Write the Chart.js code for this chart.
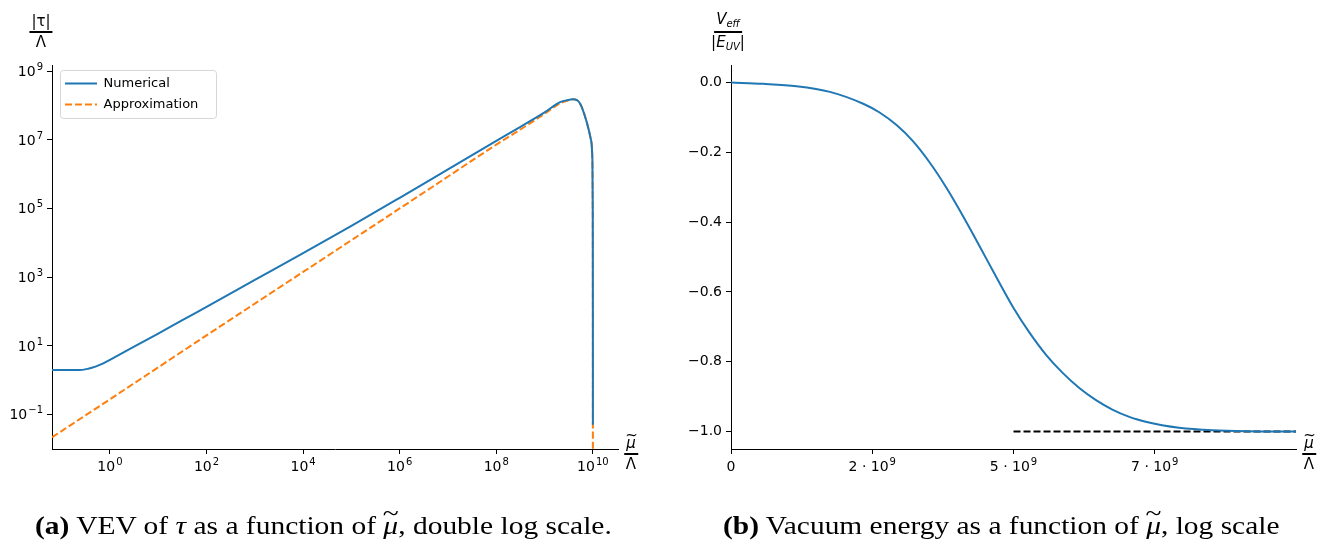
<!DOCTYPE html>
<html>
<head>
<meta charset="utf-8">
<script src="https://cdn.jsdelivr.net/npm/chart.js@4.4.1/dist/chart.umd.min.js"></script>
<style>
body { margin: 0; background: #fff; width: 1338px; height: 546px; position: relative; overflow: hidden; font-family: "DejaVu Sans"; }
.box { position: absolute; top: 0; height: 546px; }
.frac { position: absolute; display: flex; flex-direction: column; align-items: center; font-size: 15px; line-height: 1; color: #000; transform: translateX(-50%); }
.frac .num { padding: 0 2px 2px; border-bottom: 2px solid #000; white-space: nowrap; }
.frac .den { padding-top: 2px; white-space: nowrap; }
.frac i { font-style: oblique; }
.frac sub { font-size: 10px; font-style: oblique; vertical-align: -3px; }
.tl { position: relative; display: inline-block; }
.tl > span { position: absolute; left: -1px; right: -1px; text-align: center; font-style: normal; }
.frac .tl > span { top: -0.55em; font-size: 15px; }
.cap .tl > span { top: -0.5em; }
.cap { position: absolute; top: 511px; font-family: "Liberation Serif"; font-size: 26px; white-space: nowrap; color: #000; transform-origin: 0 50%; }
</style>
</head>
<body>
<div class="box" style="left:0;width:669px"><canvas id="chartA"></canvas></div>
<div class="box" style="left:669px;width:669px"><canvas id="chartB"></canvas></div>

<div class="frac" style="left:41px;top:14px"><div class="num">|τ|</div><div class="den">Λ</div></div>
<div class="frac" style="left:728px;top:12px"><div class="num"><i>V</i><sub>eff</sub></div><div class="den">|<i>E</i><sub>UV</sub>|</div></div>
<div class="frac" style="left:631px;top:436px"><div class="num"><i class="tl">μ<span>~</span></i></div><div class="den">Λ</div></div>
<div class="frac" style="left:1309px;top:436px"><div class="num"><i class="tl">μ<span>~</span></i></div><div class="den">Λ</div></div>

<div class="cap" id="capA" style="left:35px"><b>(a)</b> VEV of <i>τ</i> as a function of <i class="tl">μ<span>~</span></i>, double log scale.</div>
<div class="cap" id="capB" style="left:723px"><b>(b)</b> Vacuum energy as a function of <i class="tl">μ<span>~</span></i>, log scale</div>

<script>
// panel (a): |tau|/Lambda vs mu/Lambda, log-log
const numX = [0.0631, 0.229, 0.355, 0.501, 0.708, 1, 3.16, 10, 31.6, 100, 1e3, 1e4, 1e5, 1e6, 1e7, 1e8, 3.16e8, 1e9, 2.09e9, 2.82e9, 3.89e9, 5.37e9, 7.41e9, 9.12e9, 9.77e9, 9.93e9, 9.99e9, 1e10];
const numY = [1.95, 1.95, 2.14, 2.45, 2.99, 3.89, 9.33, 22.6, 55.6, 136, 822, 4955, 30900, 204000, 1.38e6, 9.33e6, 2.40e7, 6.31e7, 1.26e8, 1.41e8, 1.51e8, 1.17e8, 3.39e7, 1.0e7, 2.57e6, 1e5, 1e2, 0.05];
const apxX = [0.0631, 1, 100, 1e4, 1e6, 1e7, 1e8, 3.16e8, 1e9, 2.09e9, 2.82e9, 3.89e9, 5.37e9, 7.41e9, 9.12e9, 9.77e9, 9.93e9, 9.99e9, 1e10];
const apxY = [0.0214, 0.275, 20.0, 1413, 100000, 851000, 7.24e6, 2.0e7, 5.75e7, 1.15e8, 1.35e8, 1.51e8, 1.17e8, 3.39e7, 1.0e7, 2.57e6, 1e5, 1e2, 0.008];
const logXTicks = [1, 1e2, 1e4, 1e6, 1e8, 1e10];
const logYTicks = [1e-1, 1e1, 1e3, 1e5, 1e7, 1e9];

// panel (b): V_eff/|E_UV| vs mu/Lambda
const vacX = [0, 0.57e9, 1.16e9, 1.75e9, 2.34e9, 2.63e9, 2.93e9, 3.22e9, 3.52e9, 3.81e9, 4.10e9, 4.40e9, 4.69e9, 4.99e9, 5.28e9, 5.58e9, 5.87e9, 6.17e9, 6.46e9, 6.75e9, 7.05e9, 7.34e9, 7.63e9, 7.93e9, 8.52e9, 9.11e9, 1.0e10];
const vacY = [0, -0.004, -0.011, -0.027, -0.061, -0.086, -0.122, -0.168, -0.230, -0.301, -0.381, -0.469, -0.556, -0.643, -0.716, -0.781, -0.832, -0.876, -0.910, -0.937, -0.958, -0.972, -0.982, -0.989, -0.996, -0.999, -1.0];
const limX = [5e9, 1e10];
const limY = [-1, -1];
const linXTicks = [0, 2.5e9, 5e9, 7.5e9];
const linXLabels = ['0', '2 · 10', '5 · 10', '7 · 10'];
const linXExps = ['', '9', '9', '9'];
const linYTicks = [-1.0, -0.8, -0.6, -0.4, -0.2, 0.0];

const expOf = v => Math.round(Math.log10(v));
const pts = (xs, ys) => xs.map((x, i) => ({ x: x, y: ys[i] }));

const BLUE = '#1f77b4', ORANGE = '#ff7f0e';
const tickFont = { family: 'DejaVu Sans', size: 14 };
const HIDDEN = 'rgba(0,0,0,0)';

function axis(extra) {
    return Object.assign({
        grid: { display: true, drawOnChartArea: false, drawTicks: true, tickLength: 5, color: '#000', tickWidth: 1 },
        border: { display: true, color: '#000', width: 1 }
    }, extra);
}

// base + raised exponent, like matplotlib mathtext
function drawPower(ctx, base, ex, x, yb, anchor) {
    ctx.font = '14px "DejaVu Sans"';
    const wb = ctx.measureText(base).width;
    ctx.font = '10px "DejaVu Sans"';
    const we = ex ? ctx.measureText(ex).width + 1 : 0;
    const w = wb + we;
    const x0 = anchor === 'center' ? x - w / 2 : x - w;
    ctx.font = '14px "DejaVu Sans"';
    ctx.fillText(base, x0, yb);
    if (ex) {
        ctx.font = '10px "DejaVu Sans"';
        ctx.fillText(ex, x0 + wb + 1, yb - 6);
    }
}

const powerTicks = {
    id: 'powerTicks',
    afterDraw(chart, args, opts) {
        const ctx = chart.ctx;
        ctx.save();
        ctx.fillStyle = '#000';
        ctx.textBaseline = 'alphabetic';
        ['x', 'y'].forEach(id => {
            const s = chart.scales[id];
            if (!s || !opts[id]) return;
            s.ticks.forEach((t, i) => {
                const [base, ex] = opts[id](t.value, i);
                if (id === 'x') drawPower(ctx, base, ex, s.getPixelForValue(t.value), s.top + 5 + 3 + 14, 'center');
                else drawPower(ctx, base, ex, s.right - 5 - 4, s.getPixelForValue(t.value) + 5, 'right');
            });
        });
        ctx.restore();
    }
};

// legend sits in the upper left of the plot, inside a light frame
const legendFrame = {
    id: 'legendFrame',
    afterLayout(chart) {
        const lg = chart.legend;
        if (!lg || !chart.options.plugins.legend.display) return;
        const ca = chart.chartArea;
        const w = lg.width, h = lg.height;
        lg.left = ca.left + 5; lg.top = ca.top + 4;
        lg.right = lg.left + w; lg.bottom = lg.top + h;
    },
    beforeDraw(chart) {
        if (!chart.options.plugins.legend.display) return;
        const ca = chart.chartArea, ctx = chart.ctx;
        ctx.save();
        ctx.beginPath();
        ctx.roundRect(ca.left + 8.5, ca.top + 5.5, 156, 48, 3);
        ctx.fillStyle = 'rgba(255,255,255,0.8)';
        ctx.fill();
        ctx.strokeStyle = '#d6d6d6';
        ctx.lineWidth = 1;
        ctx.stroke();
        ctx.restore();
    }
};

const logLabel = v => ['10', String(expOf(v)).replace('-', '\u2212')];

new Chart(document.getElementById('chartA'), {
    type: 'line',
    data: {
        datasets: [
            { label: 'Numerical', data: pts(numX, numY), borderColor: BLUE, borderWidth: 2, pointRadius: 0, cubicInterpolationMode: 'monotone' },
            { label: 'Approximation', data: pts(apxX, apxY), borderColor: ORANGE, borderWidth: 2, borderDash: [7, 3], pointRadius: 0, cubicInterpolationMode: 'monotone' }
        ]
    },
    options: {
        responsive: true,
        maintainAspectRatio: false,
        animation: false,
        layout: { padding: { top: 65, right: 51, bottom: 0, left: 0 } },
        scales: {
            x: axis({
                type: 'logarithmic', min: Math.pow(10, -1.2), max: Math.pow(10, 10.52),
                afterBuildTicks: s => { s.ticks = logXTicks.map(v => ({ value: v })); },
                afterFit: s => { s.height = 97; },
                ticks: { color: HIDDEN, font: tickFont, padding: 3, autoSkip: false, maxRotation: 0, callback: v => logLabel(v).join('') }
            }),
            y: axis({
                type: 'logarithmic', min: Math.pow(10, -2.01), max: Math.pow(10, 9.18),
                afterBuildTicks: s => { s.ticks = logYTicks.map(v => ({ value: v })); },
                afterFit: s => { s.width = 52; },
                ticks: { color: HIDDEN, font: tickFont, padding: 4, autoSkip: false, callback: v => logLabel(v).join('') }
            })
        },
        plugins: {
            tooltip: { enabled: false },
            powerTicks: { x: logLabel, y: logLabel },
            legend: {
                display: true, position: 'chartArea', align: 'start',
                labels: {
                    usePointStyle: true, pointStyleWidth: 32, padding: 8, color: '#000',
                    font: { family: 'DejaVu Sans', size: 13 },
                    generateLabels(chart) {
                        const items = Chart.defaults.plugins.legend.labels.generateLabels(chart);
                        items.forEach(it => {
                            const ds = chart.data.datasets[it.datasetIndex];
                            it.pointStyle = 'line';
                            it.lineDash = ds.borderDash || [];
                            it.lineWidth = ds.borderWidth;
                            it.strokeStyle = ds.borderColor;
                        });
                        return items;
                    }
                }
            }
        }
    },
    plugins: [legendFrame, powerTicks]
});

new Chart(document.getElementById('chartB'), {
    type: 'line',
    data: {
        datasets: [
            { label: 'V_eff', data: pts(vacX, vacY), borderColor: BLUE, borderWidth: 2, pointRadius: 0, cubicInterpolationMode: 'monotone' },
            { label: 'limit', data: pts(limX, limY), borderColor: '#000', borderWidth: 2, borderDash: [7, 3], pointRadius: 0 }
        ]
    },
    options: {
        responsive: true,
        maintainAspectRatio: false,
        animation: false,
        layout: { padding: { top: 65, right: 42, bottom: 0, left: 0 } },
        scales: {
            x: axis({
                type: 'linear', min: 0, max: 1e10,
                afterBuildTicks: s => { s.ticks = linXTicks.map(v => ({ value: v })); },
                afterFit: s => { s.height = 97; },
                ticks: { color: HIDDEN, font: tickFont, padding: 3, autoSkip: false, maxRotation: 0, callback: (v, i) => linXLabels[i] + linXExps[i] }
            }),
            y: axis({
                type: 'linear', min: -1.05, max: 0.05,
                afterBuildTicks: s => { s.ticks = linYTicks.map(v => ({ value: v })); },
                afterFit: s => { s.width = 62; },
                ticks: { color: '#000', font: tickFont, padding: 4, autoSkip: false, callback: v => (v < 0 ? '\u2212' : '') + Math.abs(v).toFixed(1) }
            })
        },
        plugins: {
            tooltip: { enabled: false },
            legend: { display: false },
            powerTicks: { x: (v, i) => [linXLabels[i], linXExps[i]] }
        }
    },
    plugins: [powerTicks]
});

// stretch the captions to the width they have in the original figure
[['capA', 577], ['capB', 557]].forEach(([id, w]) => {
    const el = document.getElementById(id);
    el.style.transform = 'scaleX(' + (w / el.offsetWidth) + ')';
});
</script>
</body>
</html>
